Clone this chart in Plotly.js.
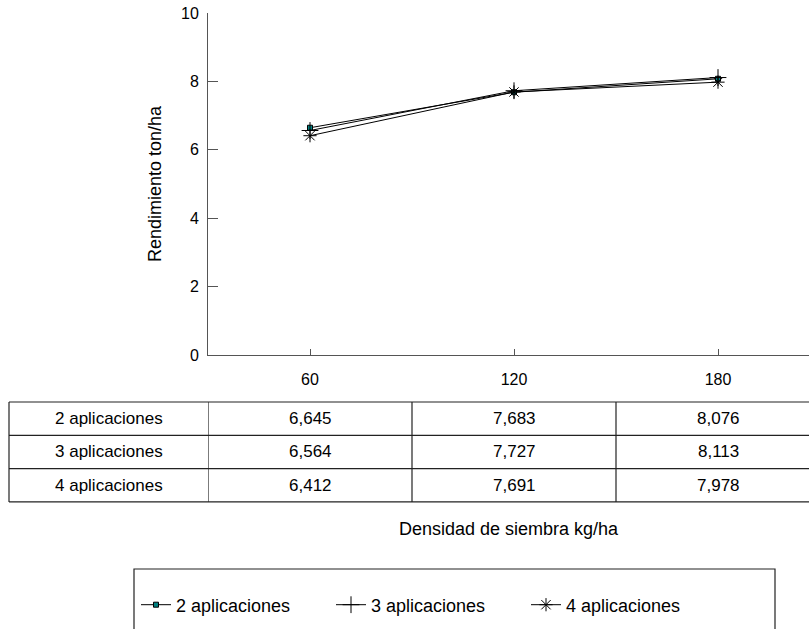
<!DOCTYPE html>
<html>
<head>
<meta charset="utf-8">
<script src="https://cdn.plot.ly/plotly-3.0.1.min.js"></script>
<style>
html,body{margin:0;padding:0;overflow:hidden;background:#fff;}
#chart{width:809px;height:629px;}
</style>
</head>
<body>
<div id="chart"></div>
<script>
// ---- data ----
var categories = ['60', '120', '180'];
var seriesNames = ['2 aplicaciones', '3 aplicaciones', '4 aplicaciones'];
var dos = [6.645, 7.683, 8.076];
var tres = [6.564, 7.727, 8.113];
var cuatro = [6.412, 7.691, 7.978];
var yTicks = [0, 2, 4, 6, 8, 10];
var xTitle = 'Densidad de siembra kg/ha';
var yTitle = 'Rendimiento ton/ha';

var FONT = 'Liberation Sans, Arial, sans-serif';
var W = 809, H = 629;
var mL = 208, mR = 0, mT = 13, mB = 274;
var plotW = W - mL - mR, plotH = H - mT - mB;
function px2paperX(p){ return (p - mL) / plotW; }
function px2paperY(p){ return (H - mB - p) / plotH; }

var allSeries = [dos, tres, cuatro];
var markers = [
  {symbol: 'square', size: 5, color: '#008080', line: {color: '#000', width: 1}},
  {symbol: 'cross-thin-open', size: 12, color: '#000', line: {color: '#000', width: 1}},
  {symbol: 'asterisk-open', size: 11, color: '#000', line: {color: '#000', width: 1}}
];

var traces = allSeries.map(function(vals, i){
  return {
    type: 'scatter', mode: 'lines+markers',
    name: seriesNames[i], x: categories, y: vals,
    line: {color: '#000', width: 1},
    marker: markers[i],
    cliponaxis: false
  };
});

function fmt(v){ return v.toFixed(3).replace('.', ','); }

// table geometry (pixels)
var tLeft = 9, tTop = 402, rowH = 33.3;
var shapes = [];
var annotations = [];
for (var r = 0; r <= allSeries.length; r++) {
  var yy = px2paperY(tTop + r * rowH);
  shapes.push({type: 'line', xref: 'paper', yref: 'paper', x0: px2paperX(tLeft), x1: 1.05, y0: yy, y1: yy,
    line: {color: '#222', width: 1.2}});
}
shapes.push({type: 'line', xref: 'paper', yref: 'paper', x0: px2paperX(tLeft), x1: px2paperX(tLeft),
  y0: px2paperY(tTop), y1: px2paperY(tTop + allSeries.length * rowH), line: {color: '#222', width: 1.2}});
for (var c = 0; c <= categories.length; c++) {
  shapes.push({type: 'line', xref: 'x', yref: 'paper', x0: c - 0.5, x1: c - 0.5,
    y0: px2paperY(tTop), y1: px2paperY(tTop + allSeries.length * rowH), line: {color: '#222', width: 1.2}});
}
allSeries.forEach(function(vals, r){
  var yc = px2paperY(tTop + (r + 0.5) * rowH);
  annotations.push({xref: 'paper', yref: 'paper', x: px2paperX((tLeft + mL) / 2), y: yc,
    text: seriesNames[r], showarrow: false, xanchor: 'center', yanchor: 'middle',
    font: {family: FONT, size: 17, color: '#000'}});
  vals.forEach(function(v, c){
    annotations.push({xref: 'x', yref: 'paper', x: c, y: yc,
      text: fmt(v), showarrow: false, xanchor: 'center', yanchor: 'middle',
      font: {family: FONT, size: 17, color: '#000'}});
  });
});
shapes.push({type: 'rect', xref: 'paper', yref: 'paper', x0: px2paperX(134), x1: px2paperX(775),
  y0: px2paperY(569), y1: px2paperY(660), line: {color: '#222', width: 1.2}, fillcolor: 'rgba(0,0,0,0)'});

var layout = {
  width: W, height: H,
  margin: {l: mL, r: mR, t: mT, b: mB, pad: 0},
  paper_bgcolor: '#fff', plot_bgcolor: '#fff',
  font: {family: FONT, size: 16, color: '#000'},
  showlegend: true,
  legend: {orientation: 'h', x: px2paperX(136), xanchor: 'left', y: px2paperY(605), yanchor: 'middle',
    bgcolor: 'rgba(0,0,0,0)', borderwidth: 0, entrywidth: 150, entrywidthmode: 'pixels',
    font: {family: FONT, size: 18, color: '#000'}},
  xaxis: {type: 'category', range: [-0.5, -0.5 + plotW / 204], showline: true, linecolor: '#555', linewidth: 1,
    ticks: 'inside', ticklen: 6, tickcolor: '#555', showgrid: false, zeroline: false,
    ticklabelstandoff: 10, tickfont: {family: FONT, size: 16, color: '#000'},
    title: {text: xTitle, standoff: 135, font: {family: FONT, size: 18, color: '#000'}}, automargin: false},
  yaxis: {range: [0, 10], tickvals: yTicks, showline: true, linecolor: '#555', linewidth: 1,
    ticks: 'inside', ticklen: 10, tickcolor: '#555', showgrid: false, zeroline: false,
    ticklabelstandoff: 5, tickfont: {family: FONT, size: 16, color: '#000'},
    title: {text: yTitle, standoff: 14, font: {family: FONT, size: 18, color: '#000'}}, automargin: false},
  shapes: shapes,
  annotations: annotations
};

Plotly.newPlot('chart', traces, layout, {displayModeBar: false, staticPlot: true});
</script>
</body>
</html>
